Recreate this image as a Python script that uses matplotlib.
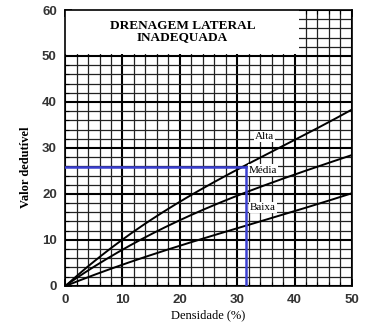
import matplotlib.pyplot as plt
from matplotlib.patches import Rectangle
import numpy as np

# curve values (densidade %, valor dedutivel)
dens = [0, 10, 20, 30, 40, 50]
alta = [0, 9.7, 18.7, 25.2, 31.6, 38.4]
media = [0, 7.8, 14.5, 19.3, 24.4, 28.4]
baixa = [0, 4.4, 8.9, 12.6, 16.1, 20.2]

# blue reading lines
x_read = 31.5
y_read = 25.9

labels = ['Alta', 'Média', 'Baixa']
label_x = [34.8, 34.5, 34.5]
label_y = [32.5, 25.2, 17.0]

plt.rcParams['font.family'] = ['Liberation Sans', 'DejaVu Sans']

fig = plt.figure(figsize=(3.7, 3.23), dpi=100)
ax = fig.add_axes([0.176, 0.115, 0.775, 0.854])

ax.set_xlim(0, 50)
ax.set_ylim(0, 60)
ax.set_xticks(np.arange(0, 51, 10))
ax.set_yticks(np.arange(0, 61, 10))
ax.set_xticks(np.arange(0, 51, 2), minor=True)
ax.set_yticks(np.arange(0, 61, 2), minor=True)
ax.grid(which='major', color='black', lw=1.5, zorder=0.5)
ax.grid(which='minor', color='#222222', lw=0.9, zorder=0.5)
ax.set_axisbelow(True)
ax.tick_params(which='both', direction='in', top=True, labelsize=9.5, pad=6)
ax.tick_params(which='major', length=5, width=1.2)
ax.tick_params(which='minor', length=3, width=0.8)
for lab in ax.get_xticklabels() + ax.get_yticklabels():
    lab.set_fontweight('bold')
    lab.set_color('#333333')
for s in ax.spines.values():
    s.set_linewidth(1.2)

# title box covering upper-left of the grid
ax.add_patch(Rectangle((0, 50.4), 40.8, 9.6, facecolor='white', edgecolor='none', zorder=1))
ax.text(20.5, 55.3, 'DRENAGEM LATERAL\nINADEQUADA', ha='center', va='center',
        family='Liberation Serif', fontweight='bold', fontsize=9.5, linespacing=1.0, zorder=4)

# smooth the curves a little
xs = np.linspace(0, 50, 200)
for ys in (alta, media, baixa):
    c = np.polyfit(dens, ys, 3)
    ax.plot(xs, np.polyval(c, xs), color='black', lw=1.4, zorder=3)

ax.plot([0, x_read], [y_read, y_read], color='#3a3fd0', lw=1.8, zorder=3.5)
ax.plot([x_read, x_read], [0, y_read], color='#3a3fd0', lw=1.8, zorder=3.5)

for t, lx, ly in zip(labels, label_x, label_y):
    ax.text(lx, ly, t, ha='center', va='center', family='Liberation Serif', fontsize=8,
            zorder=4, bbox=dict(facecolor='white', edgecolor='none', pad=0.8))

ax.set_xlabel('Densidade (%)', family='Liberation Serif', fontsize=9, labelpad=2)
ax.set_ylabel('Valor dedutível', family='Liberation Serif', fontsize=9, fontweight='bold')
ax.yaxis.set_label_coords(-0.115, 0.43)

fig.savefig('out.png', dpi=100)
